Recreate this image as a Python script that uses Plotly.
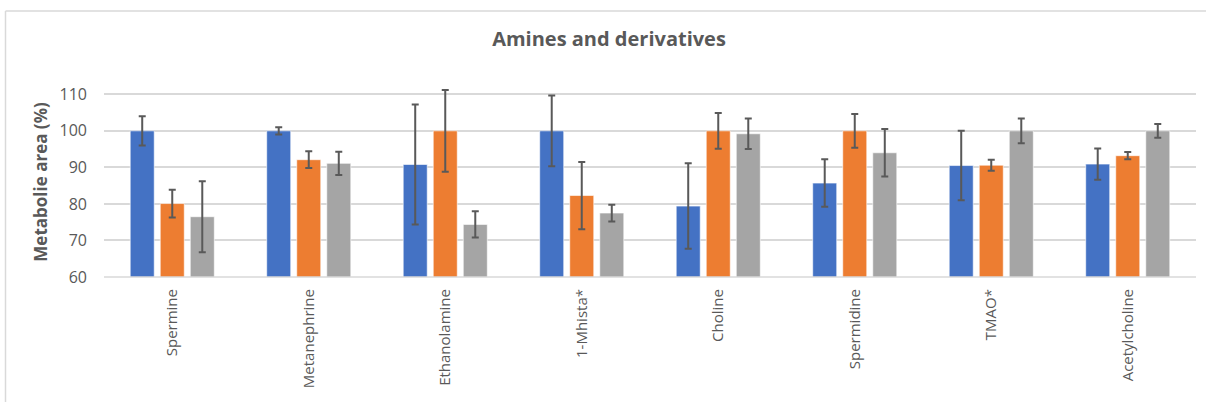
import plotly.graph_objects as go

categories = ["Spermine", "Metanephrine", "Ethanolamine", "1-Mhista*", "Choline",
              "Spermidine", "TMAO*", "Acetylcholine"]
series_a = [100, 100, 90.8, 100, 79.4, 85.7, 90.5, 90.9]
err_a = [4.0, 1.0, 16.4, 9.7, 11.7, 6.5, 9.5, 4.3]
series_b = [80.1, 92.1, 100, 82.3, 100, 100, 90.6, 93.2]
err_b = [3.8, 2.3, 11.2, 9.2, 4.9, 4.6, 1.5, 1.0]
series_c = [76.5, 91.1, 74.4, 77.5, 99.2, 94.0, 100, 100]
err_c = [9.7, 3.2, 3.6, 2.3, 4.2, 6.5, 3.4, 1.9]
y_ticks = [60, 70, 80, 90, 100, 110]

colors = ["#4472C4", "#ED7D31", "#A5A5A5"]
grid = "#D9D9D9"
txt = "#595959"
font = "Open Sans"

fig = go.Figure()
for vals, errs, col in zip([series_a, series_b, series_c], [err_a, err_b, err_c], colors):
    fig.add_trace(go.Bar(
        x=categories, y=vals,
        marker=dict(color=col, line=dict(color="rgba(255,255,255,0.6)", width=1)),
        error_y=dict(type="data", array=errs, visible=True, color="#595959",
                     thickness=2, width=3.5),
        showlegend=False,
    ))

W, H = 1206, 402
L, R = 104, 10
plot_bottom = 277
B = H - plot_bottom
T = plot_bottom - 52 * 36.6 / 10  # range 60..112
pw = W - L - R
ph = H - T - B

def px(x):
    return (x - L) / pw

def py(y):
    return (H - B - y) / ph

fig.update_layout(
    width=W, height=H,
    margin=dict(l=L, r=R, t=T, b=B, autoexpand=False),
    paper_bgcolor="white", plot_bgcolor="white",
    barmode="group", bargap=0.34, bargroupgap=0.2,
    title=dict(text="<b>Amines and derivatives</b>", x=px(609), xref="paper",
               xanchor="center", y=1 - 39 / H, yanchor="middle",
               font=dict(family=font, size=20, color=txt)),
    xaxis=dict(tickangle=-90, showgrid=False, showline=False, ticks="",
               automargin=False,
               tickfont=dict(family=font, size=15, color=txt),
               ticklabelstandoff=8),
    yaxis=dict(range=[60, 112], tickvals=y_ticks, showgrid=True, gridcolor=grid, gridwidth=1.5,
               zeroline=False, showline=False, ticks="", automargin=False,
               tickfont=dict(family=font, size=16, color=txt),
               ticklabelstandoff=16,
               title=dict(text="<b>Metabolie area (%)</b>", standoff=7,
                          font=dict(family=font, size=17, color=txt))),
    shapes=[
        dict(type="line", xref="paper", yref="paper", x0=0, x1=1, y0=0, y1=0,
             line=dict(color=grid, width=1.5)),
        dict(type="line", xref="paper", yref="paper", x0=px(5.5), x1=px(5.5),
             y0=py(10.5), y1=py(410), line=dict(color="#D9D9D9", width=1.5)),
        dict(type="line", xref="paper", yref="paper", x0=px(5.5), x1=px(1215),
             y0=py(10.5), y1=py(10.5), line=dict(color="#D9D9D9", width=1.5)),
    ],
)

fig.write_html("out.html", config={"displayModeBar": False},
               post_script="document.body.style.margin='0';document.body.style.overflow='hidden';")
